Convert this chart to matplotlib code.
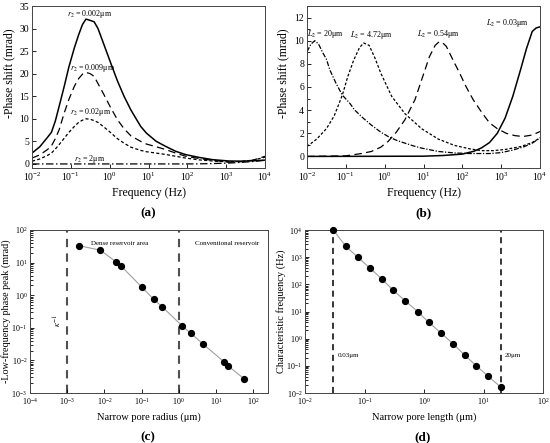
import numpy as np
import matplotlib
matplotlib.use("Agg")
import matplotlib.pyplot as plt
from matplotlib.ticker import LogLocator, MultipleLocator, NullLocator

plt.rcParams["font.family"] = ["Liberation Serif", "DejaVu Serif"]
plt.rcParams["mathtext.fontset"] = "stix"

# ---- (a) phase shift vs frequency for several narrow pore radii ----
logf_a = [-2, -1.8, -1.6, -1.5, -1.4, -1.3, -1.17, -1.05, -0.91, -0.8,
          -0.7, -0.61, -0.5, -0.4, -0.3, -0.15, 0.03, 0.2, 0.37, 0.55,
          0.8, 0.95, 1.2, 1.44, 1.7, 1.96, 2.3, 2.65, 3.07, 3.4,
          3.7, 4.0]
phase_r0002 = [2.4, 3.8, 5.9, 7.0, 9.5, 12.8, 17.2, 21.5, 25.7, 28.6,
               30.9, 32.1, 31.8, 31.5, 30.0, 26.5, 22.3, 18.4, 15.0, 11.9,
               8.3, 6.8, 5.0, 3.9, 2.8, 2.06, 1.45, 0.95, 0.65, 0.62,
               0.7, 0.85]
phase_r0009 = [1.3, 2.0, 3.2, 4.0, 5.6, 7.6, 11.3, 14.3, 17.2, 18.9,
               19.9, 20.3, 20.0, 19.4, 17.8, 15.4, 12.4, 9.8, 7.8, 6.2,
               5.0, 4.4, 3.8, 3.2, 2.4, 1.7, 1.2, 0.8, 0.4, 0.5,
               0.85, 1.7]
phase_r002 = [0.6, 1.1, 1.9, 2.4, 3.3, 4.3, 5.7, 7.0, 8.3, 9.2,
              9.7, 10.0, 9.9, 9.6, 9.2, 8.2, 6.9, 5.6, 4.6, 3.7,
              3.0, 2.7, 2.4, 2.1, 1.7, 1.3, 0.9, 0.65, 0.45, 0.55,
              0.85, 1.5]
phase_r2 = [0, 0, 0, 0, 0, 0, 0, 0, 0, 0,
            0, 0, 0, 0, 0, 0, 0, 0, 0, 0,
            0, 0, 0, 0, 0, 0, 0.02, 0.08, 0.2, 0.35,
            0.55, 0.8]

# ---- (b) phase shift vs frequency for several narrow pore lengths ----
logf_L20 = [-2, -1.9, -1.8, -1.7, -1.6, -1.5, -1.41, -1.25, -1.09, -0.9,
            -0.77, -0.55, -0.34, -0.1, 0.09, 0.3, 0.52, 0.75, 0.95, 1.38,
            1.8, 2.2, 2.7, 3.0, 3.3, 3.6, 3.8, 4.0]
phase_L20 = [9.05, 9.7, 10.0, 9.7, 9.0, 8.4, 7.46, 6.3, 5.3, 4.6,
             4.0, 3.3, 2.7, 2.1, 1.72, 1.4, 1.15, 0.9, 0.72, 0.43,
             0.3, 0.25, 0.25, 0.33, 0.55, 0.85, 1.15, 1.6]
logf_L472 = [-2, -1.75, -1.5, -1.3, -1.09, -0.95, -0.8, -0.65, -0.54, -0.4,
             -0.25, -0.1, 0.18, 0.52, 0.95, 1.38, 1.8, 2.2, 2.5, 2.8,
             3.1, 3.5, 3.8, 4.0]
phase_L472 = [0.86, 1.5, 2.4, 3.5, 5.3, 6.9, 8.3, 9.4, 9.8, 9.6,
              8.5, 7.2, 5.2, 3.7, 2.4, 1.5, 0.95, 0.65, 0.5, 0.5,
              0.6, 0.85, 1.2, 1.6]
logf_L054 = [-2, -1.0, -0.6, -0.34, -0.1, 0.09, 0.3, 0.52, 0.78, 0.99,
             1.15, 1.3, 1.4, 1.5, 1.59, 1.75, 1.93, 2.1, 2.28, 2.5,
             2.7, 2.9, 3.13, 3.35, 3.56, 3.8, 4.0]
phase_L054 = [0, 0.05, 0.25, 0.43, 0.8, 1.3, 2.1, 3.16, 4.9, 7.0,
              8.6, 9.6, 9.9, 9.8, 9.5, 8.4, 7.2, 6.0, 4.9, 3.8,
              2.9, 2.4, 2.0, 1.8, 1.72, 1.85, 2.15]
logf_L003 = [-2, 1.0, 1.5, 2.0, 2.3, 2.5, 2.7, 2.9, 3.1, 3.3,
             3.5, 3.65, 3.8, 3.9, 4.0]
phase_L003 = [0, 0.02, 0.08, 0.2, 0.45, 0.75, 1.2, 2.0, 3.3, 5.2,
              7.5, 9.3, 10.8, 11.1, 11.2]

# ---- (c) low-frequency phase peak vs narrow pore radius ----
radius_um = [0.0021, 0.0078, 0.021, 0.028, 0.10, 0.21, 0.36, 1.26, 2.1, 4.6,
             16.6, 21.4, 58]
peak_mrad = [33, 24, 10.4, 7.9, 1.8, 0.76, 0.44, 0.112, 0.068, 0.031,
             0.009, 0.0067, 0.0027]

# ---- (d) characteristic frequency vs narrow pore length ----
length_um = [0.03, 0.048, 0.077, 0.123, 0.196, 0.30, 0.48, 0.78, 1.2, 1.94,
             3.1, 4.8, 7.6, 12.0, 19.5]
char_freq = [1e4, 2570, 1000, 400, 156, 62, 25, 10, 4.0, 1.6,
             0.64, 0.25, 0.10, 0.041, 0.0165]

W, H = 550, 443
fig = plt.figure(figsize=(W / 100, H / 100), dpi=100)


def box(x0, y0, x1, y1):
    return [x0 / W, 1 - y1 / H, (x1 - x0) / W, (y1 - y0) / H]


def style(ax, size):
    ax.tick_params(which="both", direction="in", labelsize=size,
                   width=0.6, pad=2)
    ax.tick_params(which="major", length=3)
    ax.tick_params(which="minor", length=1.8)
    for sp in ax.spines.values():
        sp.set_linewidth(0.7)
        sp.set_color("#444444")


def log_axis(axis, minor=False):
    axis.set_major_locator(LogLocator(base=10, numticks=10))
    if minor:
        axis.set_minor_locator(LogLocator(base=10, subs=np.arange(2, 10),
                                          numticks=10))
        axis.set_minor_formatter(plt.NullFormatter())
    else:
        axis.set_minor_locator(NullLocator())


ax_a = fig.add_axes(box(32, 6, 265, 168))
ax_b = fig.add_axes(box(307, 6, 540, 168))
ax_c = fig.add_axes(box(30, 230, 268, 393))
ax_d = fig.add_axes(box(305, 230, 543, 393))

# (a)
fa = 10.0 ** np.array(logf_a)
ax_a.plot(fa, phase_r0002, color="k", lw=1.1)
ax_a.plot(fa, phase_r0009, color="k", lw=0.9, dashes=(6, 3.5))
ax_a.plot(fa, phase_r002, color="k", lw=0.9, dashes=(2.5, 1.8))
ax_a.plot(fa, phase_r2, color="k", lw=0.9, dashes=(6, 2, 1.2, 2))
ax_a.set_xscale("log")
ax_a.set_xlim(1e-2, 1e4)
ax_a.set_ylim(-0.9, 35)
ax_a.yaxis.set_major_locator(MultipleLocator(5))
log_axis(ax_a.xaxis)
style(ax_a, 7)
ax_a.set_xlabel("Frequency (Hz)", fontsize=8.5, labelpad=3)
ax_a.set_ylabel("-Phase shift (mrad)", fontsize=8.5)
ax_a.yaxis.set_label_coords(-0.072, 0.586)
for txt, xf, yv in [(r"$r_2$ = 0.002μm", 0.31, 33.2),
                    (r"$r_2$ = 0.009μm", 0.37, 21.3),
                    (r"$r_2$ = 0.02μm", 0.33, 11.6),
                    (r"$r_2$ = 2μm", 0.31, 1.2)]:
    ax_a.text(xf, yv, txt, fontsize=5.8, ha="center", va="center")

# (b)
ax_b.plot(10.0 ** np.array(logf_L20), phase_L20, color="k", lw=0.9,
          dashes=(4, 1.3, 1, 1.3))
ax_b.plot(10.0 ** np.array(logf_L472), phase_L472, color="k", lw=0.9,
          dashes=(2.2, 1.5))
ax_b.plot(10.0 ** np.array(logf_L054), phase_L054, color="k", lw=0.9,
          dashes=(6, 3.5))
ax_b.plot(10.0 ** np.array(logf_L003), phase_L003, color="k", lw=1.1)
ax_b.set_xscale("log")
ax_b.set_xlim(1e-2, 1e4)
ax_b.set_ylim(-1, 13)
ax_b.yaxis.set_major_locator(MultipleLocator(2))
ax_b.yaxis.set_minor_locator(MultipleLocator(1))
log_axis(ax_b.xaxis)
style(ax_b, 7)
ax_b.set_xlabel("Frequency (Hz)", fontsize=8.5, labelpad=3)
ax_b.set_ylabel("-Phase shift (mrad)", fontsize=8.5)
ax_b.yaxis.set_label_coords(-0.075, 0.586)
for txt, xf, yv in [(r"$L_2$ = 20μm", 0.029, 10.6),
                    (r"$L_2$ = 4.72μm", 0.45, 10.5),
                    (r"$L_2$ = 0.54μm", 24.5, 10.6),
                    (r"$L_2$ = 0.03μm", 1480, 11.5)]:
    ax_b.text(xf, yv, txt, fontsize=5.8, ha="center", va="center")

# (c)
ax_c.plot(radius_um, peak_mrad, color="#a0a0a0", lw=0.8, zorder=2)
ax_c.plot(radius_um, peak_mrad, "o", color="k", ms=4.2, zorder=3)
for xv in [1e-3, 1.0]:
    ax_c.axvline(xv, color="#505050", lw=1.5, dashes=(4, 3), zorder=1)
ax_c.set_xscale("log")
ax_c.set_yscale("log")
ax_c.set_xlim(1e-4, 10 ** 2.4)
ax_c.set_ylim(1e-3, 1e2)
log_axis(ax_c.xaxis)
log_axis(ax_c.yaxis, minor=True)
style(ax_c, 5.8)
ax_c.set_xlabel("Narrow pore radius (μm)", fontsize=7.5, labelpad=4)
ax_c.set_ylabel("-Low-frequency phase peak (mrad)", fontsize=7.3)
ax_c.yaxis.set_label_coords(-0.08, 0.5)
ax_c.text(0.025, 38, "Dense reservoir area", fontsize=5.0, ha="center",
          va="center")
ax_c.text(20, 38, "Conventional reservoir", fontsize=5.0, ha="center",
          va="center")
ax_c.text(5.5e-4, 0.17, r"$\kappa^{-1}$", fontsize=6, ha="center",
          va="center", rotation=90)

# (d)
ax_d.plot(length_um, char_freq, color="#a0a0a0", lw=0.8, zorder=2)
ax_d.plot(length_um, char_freq, "o", color="k", ms=4.2, zorder=3,
          clip_on=False)
for xv in [0.03, 20]:
    ax_d.axvline(xv, color="k", lw=1.1, dashes=(4, 3), zorder=1)
ax_d.set_xscale("log")
ax_d.set_yscale("log")
ax_d.set_xlim(1e-2, 1e2)
ax_d.set_ylim(1e-2, 1e4)
log_axis(ax_d.xaxis)
log_axis(ax_d.yaxis, minor=True)
style(ax_d, 5.8)
ax_d.set_xlabel("Narrow pore length (μm)", fontsize=7.5, labelpad=4)
ax_d.set_ylabel("Characteristic frequency (Hz)", fontsize=7.5)
ax_d.yaxis.set_label_coords(-0.08, 0.5)
ax_d.text(0.035, 0.25, "0.03μm", fontsize=5.0, ha="left", va="center")
ax_d.text(23, 0.25, "20μm", fontsize=5.0, ha="left", va="center")

# panel letters
for lab, xp, yp in [("(a)", 148, 213), ("(b)", 423, 213),
                    ("(c)", 148, 437), ("(d)", 423, 437)]:
    fig.text(xp / W, 1 - yp / H, lab, fontsize=9.5, ha="center",
             va="center", fontweight="bold")

fig.savefig("out.png", dpi=100)
